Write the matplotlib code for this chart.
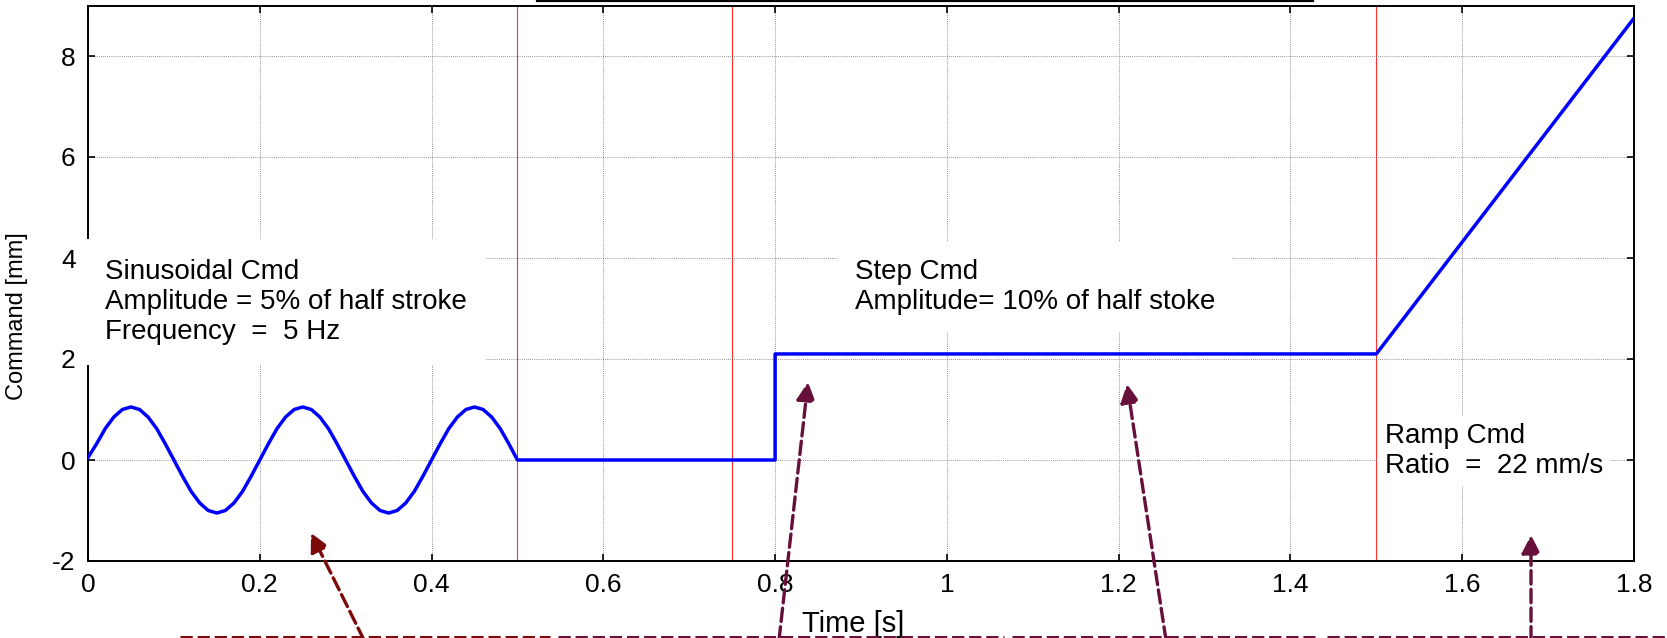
import numpy as np
import matplotlib
matplotlib.use('Agg')
import matplotlib.pyplot as plt
from matplotlib.lines import Line2D

plt.rcParams['font.family'] = ['Liberation Sans', 'DejaVu Sans']

# sinusoidal command, read every 10 ms (5 Hz, ~1.05 mm)
sine_time = np.round(np.arange(0, 0.501, 0.01), 2)
sine_cmd = [0.05, 0.32, 0.62, 0.85, 1.00, 1.05, 1.00, 0.85, 0.62, 0.32,
            0.00, -0.32, -0.62, -0.85, -1.00, -1.05, -1.00, -0.85, -0.62, -0.32,
            0.00, 0.32, 0.62, 0.85, 1.00, 1.05, 1.00, 0.85, 0.62, 0.32,
            0.00, -0.32, -0.62, -0.85, -1.00, -1.05, -1.00, -0.85, -0.62, -0.32,
            0.00, 0.32, 0.62, 0.85, 1.00, 1.05, 1.00, 0.85, 0.62, 0.32,
            0.00]
# pause, step and ramp
step_time = [0.5, 0.8, 0.8, 1.5, 1.8]
step_cmd = [0.0, 0.0, 2.1, 2.1, 8.75]
# red section borders
borders = [0.5, 0.75, 1.5]

x_ticks = [0, 0.2, 0.4, 0.6, 0.8, 1.0, 1.2, 1.4, 1.6, 1.8]
x_labels = ['0', '0.2', '0.4', '0.6', '0.8', '1', '1.2', '1.4', '1.6', '1.8']
y_ticks = [-2, 0, 2, 4, 6, 8]
y_labels = ['-2', '0', '2', '4', '6', '8']

notes = ["Sinusoidal Cmd\nAmplitude = 5% of half stroke\nFrequency  =  5 Hz",
         "Step Cmd\nAmplitude= 10% of half stoke",
         "Ramp Cmd\nRatio  =  22 mm/s"]

W, H = 1667, 638
fig = plt.figure(figsize=(W / 100, H / 100), dpi=100)
ax = fig.add_axes([88 / W, 1 - 561 / H, 1546 / W, 555.5 / H])

t = list(sine_time) + step_time
y = sine_cmd + step_cmd
ax.plot(t, y, color='#0000ff', lw=2.5, zorder=4)

for b in borders:
    ax.axvline(b, color='#ff3030', lw=0.8, zorder=1)

ax.set_xlim(0, 1.8)
ax.set_ylim(-2, 9)
ax.set_xticks(x_ticks)
ax.set_xticklabels(x_labels)
ax.set_yticks(y_ticks)
ax.set_yticklabels(y_labels)
ax.grid(True, color='#707070', linestyle=(0, (1, 1.5)), lw=0.6, zorder=0)
ax.tick_params(direction='in', length=5, width=1.2, top=True, right=True,
               labelsize=19, pad=9)
for s in ax.spines.values():
    s.set_linewidth(1.4)

ax.set_xlabel('Time [s]', fontsize=21)
ax.xaxis.set_label_coords(0.495, -0.088)
ax.set_ylabel('Command [mm]', fontsize=17)
ax.yaxis.set_label_coords(-0.039, 0.44)

box = dict(facecolor='white', edgecolor='none')
ax.text(0.02, 3.13, notes[0], fontsize=20, va='center', ha='left',
        linespacing=1.22, bbox=dict(box, pad=14), zorder=3)
ax.text(0.893, 3.42, notes[1], fontsize=20, va='center', ha='left',
        linespacing=1.22, bbox=dict(box, pad=12), zorder=3)
ax.text(1.51, 0.18, notes[2], fontsize=20, va='center', ha='left',
        linespacing=1.22, bbox=dict(box, pad=5), zorder=3)

# black rule at the very top of the figure
fig.add_artist(Line2D([537 / W, 1313 / W], [1 - 1.2 / H, 1 - 1.2 / H],
                      color='black', lw=1.6))

# dashed callout arrows below the axes (figure pixels, from top)
red1 = '#7d0a0a'
red2 = '#66103a'
arrows = [((364, 640), (311, 533), red1),
          ((779, 640), (808, 382), red2),
          ((1166, 640), (1127, 384), red2),
          ((1531, 640), (1531, 535), red2)]
for (tx, ty), (hx, hy), c in arrows:
    ax.annotate('', xy=(hx / W, 1 - hy / H), xycoords='figure fraction',
                xytext=(tx / W, 1 - ty / H), textcoords='figure fraction',
                annotation_clip=False,
                arrowprops=dict(arrowstyle='-|>,head_length=0.55,head_width=0.28',
                                mutation_scale=20, color=c, lw=2.4,
                                linestyle=(0, (4, 1.6)), shrinkA=0, shrinkB=0))

segments = [(180, 550, red1), (558, 1004, red2), (1012, 1315, red2), (1327, 1667, red2)]
for x0, x1, c in segments:
    fig.add_artist(Line2D([x0 / W, x1 / W], [1 - 636.5 / H, 1 - 636.5 / H],
                          color=c, lw=2.2, linestyle=(0, (4, 1.6))))

fig.savefig('out.png', dpi=100)
